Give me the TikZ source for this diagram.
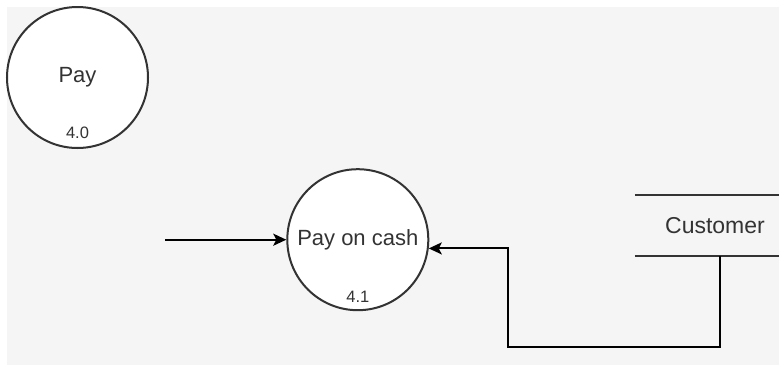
\documentclass[tikz,border=0pt]{standalone}
\usepackage{fontspec}
\setmainfont{Liberation Sans}
\usetikzlibrary{arrows.meta}
\definecolor{canvas}{HTML}{F5F5F5}
\definecolor{ink}{HTML}{333333}
\tikzset{
  process/.style={circle, draw=ink, line width=2pt, fill=white,
    minimum size=141pt, inner sep=0pt, text=ink, font=\fontsize{22}{25}\selectfont},
  procnum/.style={text=ink, inner sep=0pt, font=\fontsize{16.5}{18}\selectfont},
  store/.style={rectangle, minimum width=160pt, minimum height=61pt, inner sep=0pt,
    text=ink, font=\fontsize{23}{26}\selectfont},
  storeline/.style={draw=ink, line width=2pt},
  flow/.style={draw=black, line width=2pt, -{Stealth[length=13pt,width=12pt,inset=3pt]}},
}
\begin{document}
\begin{tikzpicture}[x=1pt,y=-1pt]
  \useasboundingbox (0,0) rectangle (779,365);
  \fill[canvas] (7,7) rectangle (779,365);

  % process 4.0
  \node[process] (pay) at (77.5,77.5) {\raisebox{-2pt}{Pay}};
  \node[procnum] (payno) at (77.5,133) {4.0};

  % process 4.1
  \node[process] (cash) at (357.8,239.7) {Pay on cash};
  \node[procnum] (cashno) at (357.8,296.5) {4.1};

  % data store (open on the right, runs past the page edge)
  \node[store] (cust) at (715,225.5) {Customer};
  \draw[storeline] (cust.north west) -- (cust.north east);
  \draw[storeline] (cust.south west) -- (cust.south east);

  % flows
  \coordinate (src) at (165,239.7);
  \draw[flow] (src) -- (cash.west);
  \draw[flow] ([xshift=85pt]cust.south west) |- (508,347.3) |- (cash.-7);
\end{tikzpicture}
\end{document}
